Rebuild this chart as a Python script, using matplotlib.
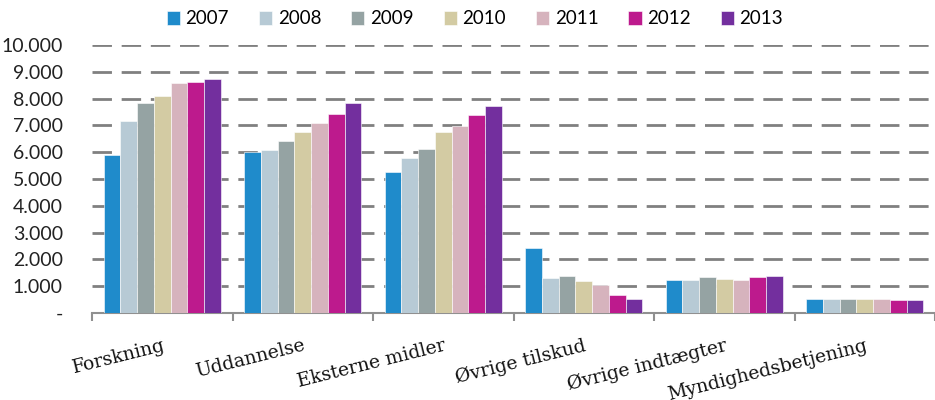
import matplotlib.pyplot as plt
import numpy as np

categories = ['Forskning', 'Uddannelse', 'Eksterne midler', 'Øvrige tilskud',
              'Øvrige indtægter', 'Myndighedsbetjening']
years = ['2007', '2008', '2009', '2010', '2011', '2012', '2013']
v2007 = [5900, 6000, 5250, 2430, 1220, 530]
v2008 = [7180, 6090, 5780, 1310, 1250, 510]
v2009 = [7850, 6400, 6120, 1380, 1330, 530]
v2010 = [8100, 6770, 6740, 1210, 1270, 510]
v2011 = [8590, 7090, 6990, 1060, 1230, 520]
v2012 = [8620, 7430, 7370, 680, 1340, 490]
v2013 = [8750, 7840, 7720, 510, 1380, 490]
series = [v2007, v2008, v2009, v2010, v2011, v2012, v2013]
colors = ['#1F8BCB', '#B7CAD5', '#95A3A3', '#D3CBA3', '#D6B3BD', '#BD1A8D', '#732F9E']
yticks = [0, 1000, 2000, 3000, 4000, 5000, 6000, 7000, 8000, 9000, 10000]
ylabels = ['-', '1.000', '2.000', '3.000', '4.000', '5.000', '6.000',
           '7.000', '8.000', '9.000', '10.000']

plt.rcParams['font.family'] = ['Lato', 'DejaVu Sans']

fig = plt.figure(figsize=(9.35, 4.0), dpi=100)
ax = fig.add_axes([92/935, 87/400, 843/935, 268/400])

x = np.arange(len(categories))
w = 0.119
for i, vals in enumerate(series):
    ax.bar(x + (i - 3) * w, vals, width=w, color=colors[i], label=years[i],
           edgecolor='white', linewidth=0.4, zorder=3)

ax.set_xlim(-0.5, len(categories) - 0.5)
ax.set_ylim(0, 10000)
ax.set_yticks(yticks)
ax.set_yticklabels(ylabels, fontsize=14, color='#222222')
ax.tick_params(axis='y', length=0, pad=21)
ax.yaxis.grid(True, color='#808080', linewidth=2, linestyle=(0, (7, 3.5)), zorder=0)

ax.set_xticks(x)
ax.set_xticklabels(categories, rotation=14, ha='right', rotation_mode='anchor',
                   family=['DejaVu Serif'], fontsize=13.5, color='#111111')
ax.tick_params(axis='x', length=0, pad=17)
ax.set_xticks(np.arange(-0.5, len(categories)), minor=True)
ax.tick_params(axis='x', which='minor', length=6, width=1.5, color='#909090')

for s in ['top', 'right', 'left']:
    ax.spines[s].set_visible(False)
ax.spines['bottom'].set_color('#909090')
ax.spines['bottom'].set_linewidth(1.5)

fig.legend(loc='center', bbox_to_anchor=(475/935, 1 - 19/400), ncol=7, frameon=False,
           fontsize=13.5, handlelength=0.7, handleheight=0.7, handletextpad=0.3,
           columnspacing=1.6)

fig.savefig('out.png', dpi=100)
